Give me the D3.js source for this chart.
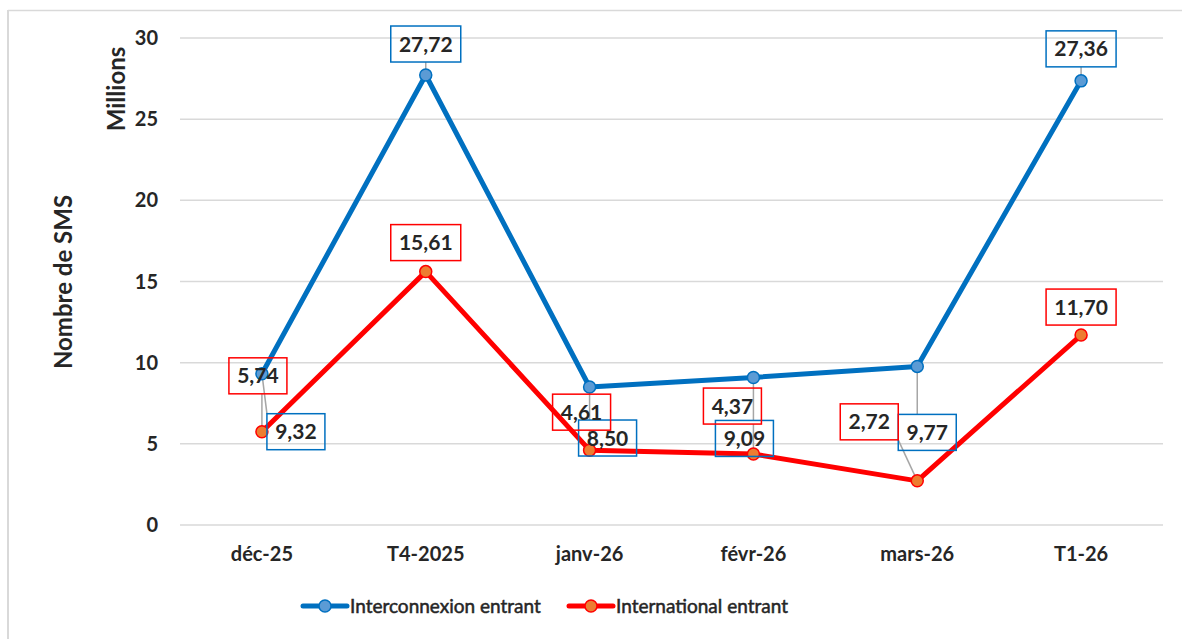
<!DOCTYPE html>
<html>
<head>
<meta charset="utf-8">
<script src="https://cdn.jsdelivr.net/npm/d3@7"></script>
<style>
  body { margin: 0; background: #fff; }
  text { font-family: Lato, "Open Sans", sans-serif; fill: #262626; }
</style>
</head>
<body>
<svg id="chart" width="1182" height="639"></svg>
<script>
// data
var categories = ["déc-25", "T4-2025", "janv-26", "févr-26", "mars-26", "T1-26"]
var interconnexion = [9.32, 27.72, 8.50, 9.09, 9.77, 27.36]
var international = [5.74, 15.61, 4.61, 4.37, 2.72, 11.70]
var yTicks = [0, 5, 10, 15, 20, 25, 30]

// label offsets (px from the point), as Excel left them
var blueLabelOffset = [[34, 58], [0, -31], [18, 51], [-9, 61], [10, 66], [0, -32]]
var redLabelOffset = [[-4, -56], [0, -29], [-8, -38], [-21, -48], [-48, -59], [0, -28]]

var svg = d3.select("#chart")
var margin = { top: 38, left: 180, right: 19, bottom: 114 }
var width = 1182, height = 639

// frame
svg.append("line").attr("x1", 8).attr("x2", 1182).attr("y1", 10.5).attr("y2", 10.5).attr("stroke", "#d9d9d9").attr("stroke-width", 1.5)
svg.append("line").attr("x1", 8).attr("x2", 8).attr("y1", 10).attr("y2", 639).attr("stroke", "#d9d9d9").attr("stroke-width", 2)

var xScale = d3.scaleBand().domain(categories).range([margin.left, width - margin.right])
var yScale = d3.scaleLinear().domain([0, 30]).range([height - margin.bottom, margin.top])
var cx = d => xScale(d) + xScale.bandwidth() / 2

// grid
svg.selectAll(".grid").data(yTicks).join("line").attr("class", "grid")
    .attr("x1", margin.left).attr("x2", width - margin.right)
    .attr("y1", d => yScale(d)).attr("y2", d => yScale(d))
    .attr("stroke", "#d9d9d9").attr("stroke-width", 1.5)

// y tick labels
svg.selectAll(".ytick").data(yTicks).join("text").attr("class", "ytick")
    .attr("x", 158).attr("y", d => yScale(d)).attr("dy", "0.35em")
    .attr("text-anchor", "end").attr("font-size", 20).attr("font-weight", "bold").text(d => d)

// x tick labels
svg.selectAll(".xtick").data(categories).join("text").attr("class", "xtick")
    .attr("x", d => cx(d)).attr("y", 554).attr("dy", "0.35em")
    .attr("text-anchor", "middle").attr("font-size", 20).attr("font-weight", "bold").text(d => d)

// axis titles
svg.append("text").attr("transform", "translate(64,282) rotate(-90)").attr("text-anchor", "middle")
    .attr("dy", "0.35em").attr("font-size", 24).attr("font-weight", "bold").text("Nombre de SMS")
svg.append("text").attr("transform", "translate(117,89) rotate(-90)").attr("text-anchor", "middle")
    .attr("dy", "0.35em").attr("font-size", 24).attr("font-weight", "bold").text("Millions")

var series = [
    { name: "Interconnexion entrant", values: interconnexion, line: "#0070C0", fill: "#5B9BD5", offs: blueLabelOffset },
    { name: "International entrant", values: international, line: "#FF0000", fill: "#ED7D31", offs: redLabelOffset }
]

var lineGen = d3.line().x((d, i) => cx(categories[i])).y(d => yScale(d))

var leaderG = svg.append("g")
var lineG = svg.append("g")
var labelG = svg.append("g")

series.forEach(s => {
    lineG.append("path").datum(s.values).attr("d", lineGen)
        .attr("fill", "none").attr("stroke", s.line).attr("stroke-width", 5).attr("stroke-linejoin", "round")
    lineG.selectAll(null).data(s.values).join("circle")
        .attr("cx", (d, i) => cx(categories[i])).attr("cy", d => yScale(d)).attr("r", 6)
        .attr("fill", s.fill).attr("stroke", s.line).attr("stroke-width", 1.5)
})

var bw = 58, bwWide = 70, bh = 36
series.forEach(s => {
    s.values.forEach((v, i) => {
        var px = cx(categories[i]), py = yScale(v)
        var lx = px + s.offs[i][0], ly = py + s.offs[i][1]
        var label = v.toFixed(2).replace(".", ",")
        var w = v >= 10 ? bwWide : bw
        var x0 = lx - w / 2, y0 = ly - bh / 2
        // leader line to nearest point of box, if point is far enough outside
        var nx = Math.max(x0, Math.min(px, x0 + w)), ny = Math.max(y0, Math.min(py, y0 + bh))
        var dist = Math.hypot(px - nx, py - ny)
        if (dist > 12) {
            leaderG.append("line").attr("x1", nx).attr("y1", ny).attr("x2", px).attr("y2", py)
                .attr("stroke", "#a6a6a6").attr("stroke-width", 1.5)
        }
        labelG.append("rect").attr("x", x0).attr("y", y0).attr("width", w).attr("height", bh)
            .attr("fill", "none").attr("stroke", s.line).attr("stroke-width", 1.5)
        labelG.append("text").attr("x", lx).attr("y", ly).attr("dy", "0.36em")
            .attr("text-anchor", "middle").attr("font-size", 21).attr("font-weight", "bold").text(label)
    })
})

// legend
var legend = [{ s: series[0], x: 303 }, { s: series[1], x: 569 }]
legend.forEach(l => {
    var g = svg.append("g").attr("transform", "translate(" + l.x + ",606)")
    g.append("line").attr("x1", 0).attr("x2", 44).attr("stroke", l.s.line).attr("stroke-width", 5).attr("stroke-linecap", "round")
    g.append("circle").attr("cx", 22).attr("r", 6).attr("fill", l.s.fill).attr("stroke", l.s.line).attr("stroke-width", 1.5)
    g.append("text").attr("x", 47).attr("dy", "0.35em").attr("font-size", 19)
        .attr("stroke", "#262626").attr("stroke-width", 0.5).text(l.s.name)
})
</script>
</body>
</html>
